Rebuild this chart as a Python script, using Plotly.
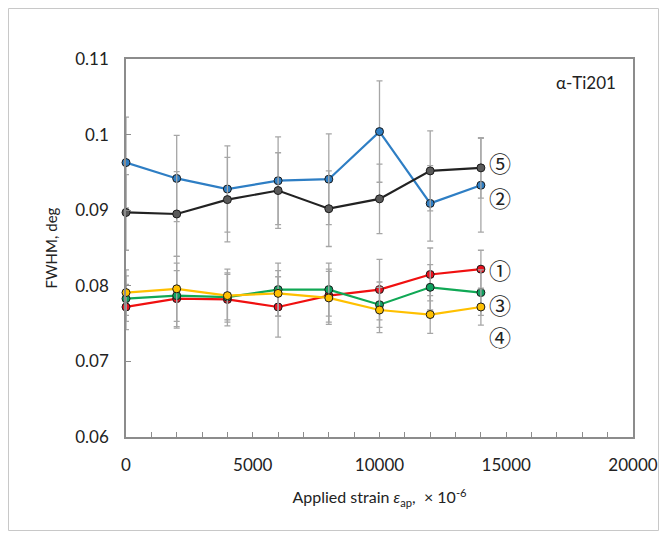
import plotly.graph_objects as go

strain = [0, 2000, 4000, 6000, 8000, 10000, 12000, 14000]

fwhm_1 = [0.0772, 0.0783, 0.0782, 0.0772, 0.0787, 0.0795, 0.0815, 0.0822]
fwhm_2 = [0.0963, 0.0942, 0.0928, 0.0939, 0.0941, 0.1004, 0.0909, 0.0933]
fwhm_3 = [0.0783, 0.0787, 0.0785, 0.0795, 0.0795, 0.0775, 0.0798, 0.0791]
fwhm_4 = [0.0791, 0.0796, 0.0787, 0.0790, 0.0784, 0.0768, 0.0762, 0.0772]
fwhm_5 = [0.0897, 0.0895, 0.0914, 0.0926, 0.0902, 0.0915, 0.0952, 0.0956]

err_1 = [0.0030, 0.0037, 0.0035, 0.0040, 0.0035, 0.0040, 0.0035, 0.0025]
err_2 = [0.0060, 0.0057, 0.0057, 0.0058, 0.0060, 0.0067, 0.0050, 0.0062]
err_3 = [0.0030, 0.0043, 0.0030, 0.0035, 0.0035, 0.0030, 0.0030, 0.0030]
err_4 = [0.0030, 0.0043, 0.0035, 0.0030, 0.0035, 0.0030, 0.0025, 0.0024]
err_5 = [0.0050, 0.0056, 0.0056, 0.0050, 0.0050, 0.0046, 0.0053, 0.0040]

x_tickvals = [0, 5000, 10000, 15000, 20000]
x_ticktext = ["0", "5000", "10000", "15000", "20000"]
y_tickvals = [0.06, 0.07, 0.08, 0.09, 0.10, 0.11]
y_ticktext = ["0.06", "0.07", "0.08", "0.09", "0.1", "0.11"]

labels = ["①", "②", "③", "④", "⑤"]
label_y = [0.0822, 0.0918, 0.0776, 0.0734, 0.0964]

series = [
    (fwhm_2, err_2, "#2E7EC4", "#2E7EC4"),
    (fwhm_5, err_5, "#222222", "#5A5A5A"),
    (fwhm_1, err_1, "#F01010", "#E8101E"),
    (fwhm_3, err_3, "#10A855", "#10A060"),
    (fwhm_4, err_4, "#FFC000", "#FFC000"),
]

W, H = 652, 523
L, R, T, B = 118, 27, 51, 94
PW, PH = W - L - R, H - T - B

fig = go.Figure()
for ys, es, lc, mc in series:
    fig.add_trace(go.Scatter(
        x=strain, y=ys, mode="lines+markers",
        line=dict(color=lc, width=2.2),
        marker=dict(size=8, color=mc, line=dict(color="#1a1a1a", width=1)),
        error_y=dict(type="data", array=es, visible=True,
                     color="#A6A6A6", thickness=1.3, width=3),
        cliponaxis=False, showlegend=False,
    ))

for lab, ly in zip(labels, label_y):
    fig.add_annotation(x=14000, y=ly, text=lab, xanchor="left", xshift=6,
                       showarrow=False, font=dict(size=22, color="#222222",
                                                 family="Noto Sans CJK JP"))

fig.add_annotation(x=0.97, y=0.97, xref="paper", yref="paper", text="α-Ti201",
                   xanchor="right", yanchor="top", showarrow=False,
                   font=dict(size=17, color="#222222", family="Lato"))

# outer frame
fig.add_shape(type="rect", xref="paper", yref="paper",
              x0=(0.5 - L) / PW, x1=(W - 1.5 - L) / PW,
              y0=(H - B - (H - 0.5)) / PH, y1=(H - B - 0.5) / PH,
              line=dict(color="#C8C8C8", width=1))

fig.update_layout(
    width=W, height=H,
    margin=dict(l=L, r=R, t=T, b=B),
    paper_bgcolor="white", plot_bgcolor="white",
    font=dict(family="Lato", size=17, color="#222222"),
)
fig.update_xaxes(
    range=[0, 20000], tickvals=x_tickvals, ticktext=x_ticktext,
    ticks="inside", ticklen=0, showgrid=False, zeroline=False, automargin=False,
    showline=True, mirror=True, linecolor="#8C8C8C", linewidth=1.5,
    minor=dict(dtick=1000, ticks="inside", ticklen=5, tickcolor="#8C8C8C"),
    ticklabelstandoff=12,
    title=dict(text="Applied strain <i>ε</i><sub>ap</sub>,  × 10<sup>-6</sup>",
               font=dict(size=16), standoff=18),
)
fig.update_yaxes(
    range=[0.06, 0.11], tickvals=y_tickvals, ticktext=y_ticktext,
    ticks="inside", ticklen=5, tickcolor="#8C8C8C", showgrid=False, zeroline=False,
    automargin=False,
    showline=True, mirror=True, linecolor="#8C8C8C", linewidth=1.5,
    ticklabelstandoff=12,
    title=dict(text="FWHM, deg", font=dict(size=15), standoff=14),
)

fig.write_html("out.html")
